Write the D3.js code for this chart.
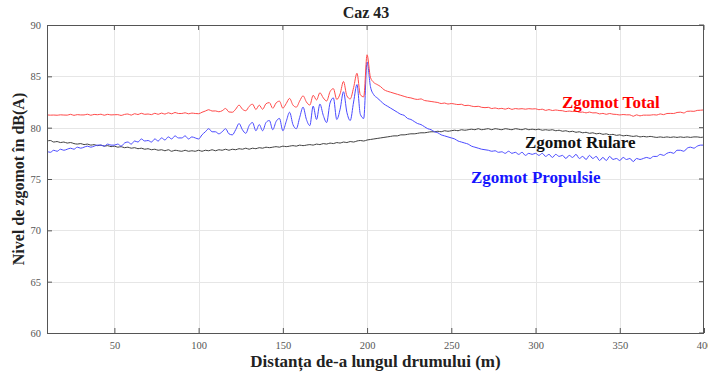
<!DOCTYPE html>
<html>
<head>
<meta charset="utf-8">
<script src="https://cdn.jsdelivr.net/npm/d3@7"></script>
<style>
body { margin: 0; background: #fff; }
svg { font-family: "Liberation Serif", "Times New Roman", serif; }
.tickText { fill: #555; font-size: 10.5px; font-family: "Liberation Serif", "Times New Roman", serif; }
.gridLine { stroke: #e6e6e6; stroke-width: 1; }
.frame { fill: none; stroke: #555; stroke-width: 1; }
</style>
</head>
<body>
<div id="chart"></div>
<script>
//--------------------------------- Data --------------------------------------------------------------
// samples every 2 m, from 10 m to 400 m
var distStart = 10;
var distStep = 2;

var xTicks = [50, 100, 150, 200, 250, 300, 350, 400];
var yTicks = [60, 65, 70, 75, 80, 85, 90];

var zgomotTotal = [
	81.24, 81.22, 81.23, 81.21, 81.25, 81.23, 81.22, 81.30, 81.20, 81.27,
	81.24, 81.24, 81.31, 81.21, 81.29, 81.26, 81.31, 81.21, 81.30, 81.24,
	81.26, 81.27, 81.19, 81.29, 81.33, 81.22, 81.36, 81.28, 81.40, 81.30,
	81.33, 81.27, 81.40, 81.30, 81.42, 81.32, 81.45, 81.35, 81.48, 81.38,
	81.38, 81.45, 81.35, 81.42, 81.38, 81.36, 81.50, 81.62, 81.75, 81.62,
	81.63, 81.55, 81.65, 81.87, 81.53, 81.50, 81.80, 82.20, 81.80, 81.65,
	82.07, 82.29, 81.77, 82.19, 81.79, 82.33, 82.44, 81.89, 82.41, 82.58,
	81.90, 82.35, 82.85, 82.20, 82.00, 82.60, 83.10, 82.50, 82.20, 83.15,
	82.70, 83.40, 82.90, 82.60, 83.50, 83.80, 82.75, 83.30, 84.50, 83.10,
	82.80, 83.90, 85.30, 83.20, 83.00, 87.10, 84.90, 84.40, 84.20, 84.00,
	83.70, 83.55, 83.45, 83.35, 83.25, 83.15, 83.05, 82.95, 82.90, 82.80,
	82.75, 82.80, 82.65, 82.60, 82.55, 82.50, 82.45, 82.35, 82.40, 82.30,
	82.35, 82.30, 82.25, 82.28, 82.15, 82.18, 82.10, 82.05, 82.08, 81.98,
	81.95, 81.98, 81.86, 81.92, 81.84, 81.88, 81.80, 81.90, 81.78, 81.86,
	81.82, 81.85, 81.80, 81.85, 81.82, 81.84, 81.75, 81.80, 81.68, 81.76,
	81.67, 81.72, 81.67, 81.65, 81.57, 81.62, 81.57, 81.62, 81.50, 81.52,
	81.44, 81.52, 81.44, 81.45, 81.34, 81.39, 81.30, 81.38, 81.31, 81.29,
	81.24, 81.28, 81.25, 81.25, 81.11, 81.25, 81.15, 81.22, 81.22, 81.22,
	81.26, 81.23, 81.34, 81.27, 81.38, 81.39, 81.38, 81.48, 81.51, 81.43,
	81.59, 81.61, 81.59, 81.68, 81.70, 81.73
];

var zgomotRulare = [
	78.70, 78.75, 78.60, 78.65, 78.55, 78.60, 78.50, 78.55, 78.45, 78.40,
	78.45, 78.35, 78.40, 78.30, 78.35, 78.25, 78.30, 78.20, 78.25, 78.15,
	78.20, 78.10, 78.15, 78.05, 78.10, 78.00, 78.05, 77.95, 78.00, 77.90,
	77.95, 77.85, 77.90, 77.80, 77.85, 77.75, 77.85, 77.70, 77.80, 77.75,
	77.70, 77.80, 77.70, 77.75, 77.70, 77.80, 77.70, 77.80, 77.75, 77.85,
	77.75, 77.85, 77.80, 77.90, 77.80, 77.90, 77.85, 77.95, 77.90, 78.00,
	77.90, 78.00, 77.95, 78.05, 78.00, 78.10, 78.05, 78.10, 78.15, 78.10,
	78.20, 78.15, 78.20, 78.25, 78.20, 78.30, 78.25, 78.30, 78.35, 78.30,
	78.40, 78.35, 78.45, 78.40, 78.50, 78.45, 78.55, 78.50, 78.60, 78.55,
	78.65, 78.60, 78.70, 78.75, 78.70, 78.80, 78.85, 78.90, 78.95, 79.00,
	79.05, 79.10, 79.15, 79.20, 79.20, 79.30, 79.30, 79.35, 79.40, 79.40,
	79.45, 79.50, 79.50, 79.55, 79.60, 79.60, 79.65, 79.60, 79.70, 79.65,
	79.70, 79.75, 79.70, 79.80, 79.75, 79.80, 79.85, 79.80, 79.90, 79.80,
	79.85, 79.90, 79.80, 79.90, 79.85, 79.80, 79.90, 79.85, 79.80, 79.90,
	79.85, 79.80, 79.90, 79.80, 79.85, 79.80, 79.85, 79.75, 79.80, 79.75,
	79.80, 79.70, 79.75, 79.65, 79.70, 79.60, 79.65, 79.55, 79.60, 79.50,
	79.55, 79.45, 79.50, 79.40, 79.45, 79.35, 79.40, 79.30, 79.35, 79.25,
	79.30, 79.20, 79.25, 79.20, 79.15, 79.20, 79.10, 79.15, 79.10, 79.15,
	79.10, 79.05, 79.10, 79.05, 79.10, 79.05, 79.10, 79.05, 79.10, 79.05,
	79.10, 79.05, 79.10, 79.10, 79.05, 79.10
];

var zgomotPropulsie = [
	77.70, 77.60, 77.80, 77.70, 77.90, 77.80, 77.90, 78.00, 77.90, 78.10,
	78.00, 78.10, 78.20, 78.10, 78.20, 78.30, 78.30, 78.20, 78.40, 78.30,
	78.30, 78.40, 78.20, 78.50, 78.60, 78.40, 78.70, 78.60, 78.90, 78.70,
	78.75, 78.60, 78.90, 78.70, 79.00, 78.80, 79.10, 78.90, 79.20, 79.00,
	79.00, 79.20, 78.90, 79.10, 79.00, 78.90, 79.30, 79.60, 79.90, 79.60,
	79.60, 79.40, 79.60, 79.90, 79.40, 79.30, 79.80, 80.40, 79.80, 79.45,
	80.20, 80.50, 79.70, 80.30, 79.70, 80.50, 80.70, 79.80, 80.60, 80.90,
	79.70, 80.60, 81.50, 80.30, 79.90, 81.00, 82.00, 80.80, 80.20, 82.10,
	80.80, 82.30, 81.20, 80.50, 82.40, 82.90, 80.80, 81.80, 83.50, 81.50,
	80.70, 82.50, 84.20, 81.30, 80.90, 86.40, 84.00, 83.20, 82.90, 82.60,
	82.30, 82.10, 81.90, 81.70, 81.50, 81.30, 81.20, 80.90, 80.80, 80.60,
	80.40, 80.30, 80.10, 79.90, 79.80, 79.60, 79.50, 79.30, 79.20, 79.10,
	79.00, 78.90, 78.70, 78.60, 78.50, 78.40, 78.20, 78.10, 78.00, 77.90,
	77.85, 77.80, 77.70, 77.75, 77.60, 77.65, 77.50, 77.70, 77.50, 77.60,
	77.40, 77.60, 77.30, 77.50, 77.40, 77.50, 77.30, 77.50, 77.20, 77.40,
	77.10, 77.40, 77.20, 77.30, 77.00, 77.30, 77.10, 77.40, 77.00, 77.20,
	76.90, 77.30, 77.00, 77.20, 76.80, 77.10, 76.80, 77.20, 76.90, 77.00,
	76.80, 77.10, 76.90, 77.00, 76.70, 77.00, 76.90, 77.00, 77.10, 77.00,
	77.20, 77.20, 77.40, 77.30, 77.50, 77.60, 77.50, 77.80, 77.80, 77.70,
	78.00, 78.10, 78.00, 78.20, 78.30, 78.30
];

var seriesNames = ["Zgomot Total", "Zgomot Rulare", "Zgomot Propulsie"];
var seriesColors = ["#ff4a4a", "#404040", "#4a4aff"];
var labelColors = ["#ff0000", "#111111", "#1515ff"];

//--------------------------------- Set up svg container ---------------------------------------
var W = 708, H = 374;
var margin = { top: 25, right: 4, bottom: 41, left: 47 };
var width = W - margin.left - margin.right;
var height = H - margin.top - margin.bottom;

var svg = d3.select("#chart")
	.append("svg")
	.attr("width", W)
	.attr("height", H);

var g = svg.append("g")
	.attr("transform", "translate(" + margin.left + "," + margin.top + ")");

var x = d3.scaleLinear().domain([10, 400]).range([0, width]);
var y = d3.scaleLinear().domain([60, 90]).range([height, 0]);

//--------------------------------- Grid ---------------------------------------
g.selectAll(".gridX")
	.data(xTicks.filter(function(d) { return d < 400; }))
	.enter().append("line")
	.attr("class", "gridLine")
	.attr("x1", function(d) { return Math.round(x(d)) + 0.5; })
	.attr("x2", function(d) { return Math.round(x(d)) + 0.5; })
	.attr("y1", 0).attr("y2", height);

g.selectAll(".gridY")
	.data(yTicks.filter(function(d) { return d > 60 && d < 90; }))
	.enter().append("line")
	.attr("class", "gridLine")
	.attr("y1", function(d) { return Math.round(y(d)) + 0.5; })
	.attr("y2", function(d) { return Math.round(y(d)) + 0.5; })
	.attr("x1", 0).attr("x2", width);

//--------------------------------- Lines ---------------------------------------
var line = d3.line()
	.curve(d3.curveMonotoneX)
	.x(function(d, i) { return x(distStart + i * distStep); })
	.y(function(d) { return y(d); });

var allSeries = [zgomotTotal, zgomotRulare, zgomotPropulsie];
// draw black first, then blue, red on top
[1, 2, 0].forEach(function(k) {
	g.append("path")
		.datum(allSeries[k])
		.attr("fill", "none")
		.attr("stroke", seriesColors[k])
		.attr("stroke-width", 1)
		.attr("stroke-linejoin", "round")
		.attr("d", line);
});

//--------------------------------- Axes / frame ---------------------------------------
var xAxis = d3.axisBottom(x).tickValues(xTicks).tickSize(-5).tickPadding(9);
var yAxis = d3.axisLeft(y).tickValues(yTicks).tickSize(-5).tickPadding(6);

var gx = g.append("g").attr("transform", "translate(0," + height + ")").call(xAxis);
var gy = g.append("g").call(yAxis);
[gx, gy].forEach(function(a) {
	a.attr("font-family", null).attr("font-size", null);
	a.select(".domain").remove();
	a.selectAll("line").attr("stroke", "#555");
	a.selectAll("text").attr("class", "tickText");
});

// top and right ticks (inside)
g.selectAll(".topTick")
	.data(xTicks)
	.enter().append("line")
	.attr("stroke", "#555")
	.attr("x1", function(d) { return x(d); }).attr("x2", function(d) { return x(d); })
	.attr("y1", 0).attr("y2", 5);
g.selectAll(".rightTick")
	.data(yTicks)
	.enter().append("line")
	.attr("stroke", "#555")
	.attr("y1", function(d) { return y(d); }).attr("y2", function(d) { return y(d); })
	.attr("x1", width).attr("x2", width - 5);

g.append("rect")
	.attr("class", "frame")
	.attr("x", 0.5).attr("y", 0.5)
	.attr("width", width - 1).attr("height", height);

//--------------------------------- Titles ---------------------------------------
svg.append("text")
	.attr("x", 366).attr("y", 18)
	.attr("text-anchor", "middle")
	.attr("font-size", "16px").attr("font-weight", "bold")
	.attr("fill", "#222")
	.text("Caz 43");

svg.append("text")
	.attr("transform", "translate(24," + (margin.top + height / 2) + ") rotate(-90)")
	.attr("text-anchor", "middle")
	.attr("font-size", "16px").attr("font-weight", "bold")
	.attr("fill", "#222")
	.text("Nivel de zgomot în dB(A)");

svg.append("text")
	.attr("x", margin.left + width / 2).attr("y", 367)
	.attr("text-anchor", "middle")
	.attr("font-size", "17px").attr("font-weight", "bold")
	.attr("fill", "#222")
	.text("Distanța de-a lungul drumului (m)");

//--------------------------------- Series labels ---------------------------------------
var labelPos = [[562, 107.5], [525, 148], [471, 183]];
svg.selectAll(".seriesLabel")
	.data(seriesNames)
	.enter().append("text")
	.attr("class", "seriesLabel")
	.attr("x", function(d, i) { return labelPos[i][0]; })
	.attr("y", function(d, i) { return labelPos[i][1]; })
	.attr("font-size", "17px").attr("font-weight", "bold")
	.attr("fill", function(d, i) { return labelColors[i]; })
	.text(function(d) { return d; });
</script>
</body>
</html>
